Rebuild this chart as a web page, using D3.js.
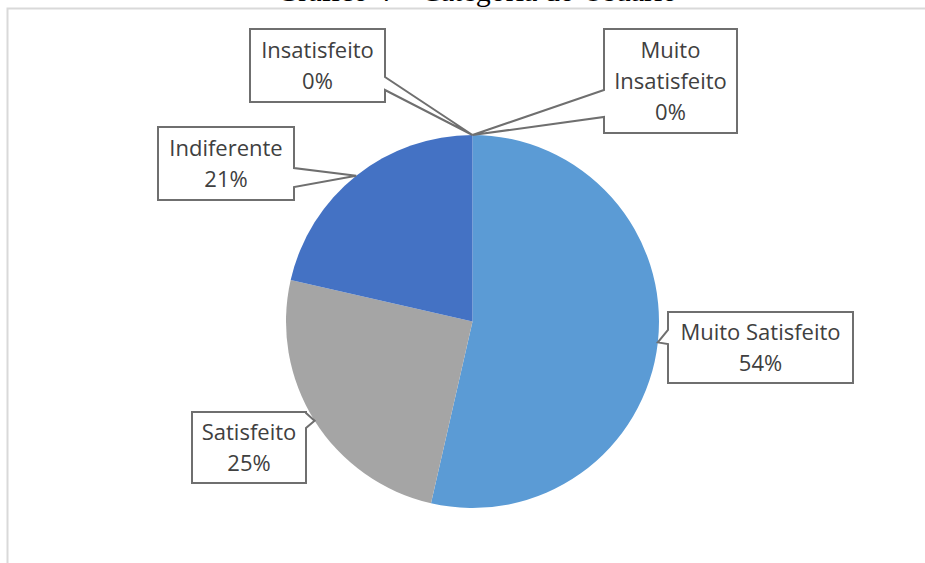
<!DOCTYPE html>
<html>
<head>
<meta charset="utf-8">
<script src="https://cdn.jsdelivr.net/npm/d3@7"></script>
<style>
  html, body { margin: 0; padding: 0; background: #ffffff; }
  svg { display: block; }
</style>
</head>
<body>
<svg id="chart" width="925" height="563"></svg>
<script>
// ---- data ----
const categories = ["Muito Satisfeito", "Satisfeito", "Indiferente", "Insatisfeito", "Muito Insatisfeito"];
const counts = [15, 7, 6, 0, 0];
const labelLines = [["Muito Satisfeito"], ["Satisfeito"], ["Indiferente"], ["Insatisfeito"], ["Muito", "Insatisfeito"]];
const sliceColors = ["#5B9BD5", "#A5A5A5", "#4472C4", "#FFC000", "#ED7D31"];
const titleText = "Gráfico 4 – Categoria do Usuário";

// ---- layout (positions of callout boxes) ----
const boxes = [
  { x0: 668, y0: 312, x1: 853, y1: 383, side: "left",  w0: 330, w1: 344 },
  { x0: 192, y0: 412, x1: 306, y1: 483, side: "right", w0: 413, w1: 428 },
  { x0: 158, y0: 127, x1: 294, y1: 200, side: "right", w0: 168, w1: 187 },
  { x0: 250, y0: 29,  x1: 385, y1: 102, side: "right", w0: 77,  w1: 90 },
  { x0: 604, y0: 29,  x1: 737, y1: 133, side: "left",  w0: 90,  w1: 117 }
];

const svg = d3.select("#chart");
const cx = 472.5, cy = 321.5, R = 186.5;

// frame
svg.append("path")
  .attr("d", "M7.5,563 L7.5,8.5 L925,8.5")
  .attr("fill", "none").attr("stroke", "#d9d9d9").attr("stroke-width", 2);

// title (cut off at the top, as in the reference)
svg.append("text")
  .attr("x", 477).attr("y", 1)
  .attr("text-anchor", "middle")
  .attr("font-family", "Liberation Serif, Times New Roman, serif")
  .attr("font-size", 30).attr("fill", "#000")
  .text(titleText);

const total = d3.sum(counts);
const pie = d3.pie().sort(null).value(d => d)(counts);
const arc = d3.arc().innerRadius(0).outerRadius(R);

const g = svg.append("g").attr("transform", `translate(${cx},${cy})`);
g.selectAll("path.slice").data(pie).join("path")
  .attr("class", "slice")
  .attr("d", arc)
  .attr("fill", (d, i) => sliceColors[i]);

// callouts
const fmt = d3.format(".0%");
pie.forEach((d, i) => {
  const a = (d.startAngle + d.endAngle) / 2;
  const tx = cx + R * Math.sin(a);
  const ty = cy - R * Math.cos(a);
  const b = boxes[i];
  let p;
  if (b.side === "right") {
    p = `M${b.x0},${b.y0} L${b.x1},${b.y0} L${b.x1},${b.w0} L${tx},${ty} L${b.x1},${b.w1} L${b.x1},${b.y1} L${b.x0},${b.y1} Z`;
  } else {
    p = `M${b.x0},${b.y0} L${b.x1},${b.y0} L${b.x1},${b.y1} L${b.x0},${b.y1} L${b.x0},${b.w1} L${tx},${ty} L${b.x0},${b.w0} Z`;
  }
  svg.append("path").attr("d", p)
    .attr("fill", "#ffffff").attr("stroke", "#6f6f6f").attr("stroke-width", 2)
    .attr("stroke-linejoin", "miter");

  const lines = labelLines[i].concat([fmt(counts[i] / total)]);
  const midY = (b.y0 + b.y1) / 2;
  const spacing = 31;
  const first = midY - spacing * (lines.length - 1) / 2 + 8;
  const t = svg.append("text")
    .attr("text-anchor", "middle")
    .attr("font-family", "Open Sans, Calibri, sans-serif")
    .attr("font-size", 22).attr("fill", "#404040");
  lines.forEach((ln, k) => {
    t.append("tspan").attr("x", (b.x0 + b.x1) / 2).attr("y", first + k * spacing).text(ln);
  });
});
</script>
</body>
</html>
